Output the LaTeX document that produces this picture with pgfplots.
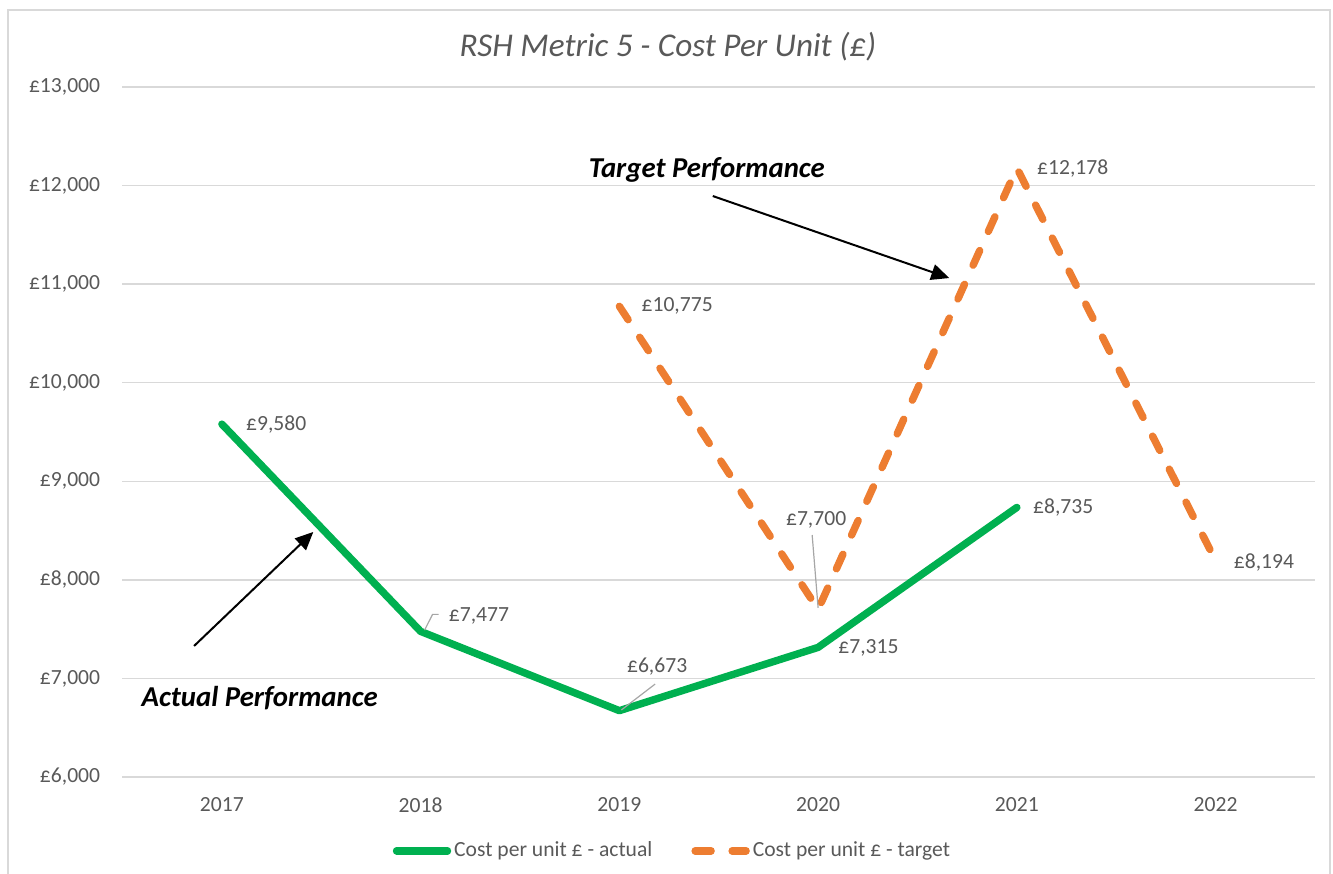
\documentclass[border=0pt]{standalone}
\usepackage{fontspec}
\setmainfont{Carlito}
\usepackage{pgfplots}
\pgfplotsset{compat=1.18}
\usetikzlibrary{arrows.meta}
\definecolor{cgreen}{HTML}{00B050}
\definecolor{corange}{HTML}{ED7D31}
\definecolor{ctext}{HTML}{595959}
\definecolor{cgrid}{HTML}{D9D9D9}
\definecolor{clead}{HTML}{A6A6A6}
\begin{document}
\begin{tikzpicture}
\path[use as bounding box] (0,0) rectangle (666.5pt,436.5pt);
\draw[cgrid, line width=0.75pt] (4pt,-1pt) -- (4pt,431.5pt) -- (665pt,431.5pt) -- (665pt,-1pt);
\node[ctext, font=\fontsize{16.6}{19}\selectfont\itshape] at (334pt,413pt) {RSH Metric 5 - Cost Per Unit (£)};
\begin{axis}[
 at={(61.25pt,48pt)}, anchor=south west, scale only axis,
 width=596.25pt, height=345pt,
 xmin=2016.5, xmax=2022.5, ymin=6000, ymax=13000,
 xtick={2017,2018,2019,2020,2021,2022},
 xticklabels={2017,2018,2019,2020,2021,2022},
 ytick={6000,7000,8000,9000,10000,11000,12000,13000},
 yticklabels={{£6,000},{£7,000},{£8,000},{£9,000},{£10,000},{£11,000},{£12,000},{£13,000}},
 scaled y ticks=false, scaled x ticks=false,
 ymajorgrids, grid style={cgrid, line width=0.75pt},
 axis line style={draw=none}, major tick length=0pt,
 tick label style={font=\fontsize{10.8}{12}\selectfont, text=ctext, inner sep=0pt},
 yticklabel style={anchor=east, xshift=-11pt},
 xticklabel style={anchor=north, yshift=-10pt},
 clip=false,
 legend style={at={(0.4616,-0.107)}, anchor=center, draw=none, fill=none,
   legend columns=2, font=\fontsize{10.8}{12}\selectfont, text=ctext,
   /tikz/every even column/.append style={column sep=18pt},
   nodes={inner sep=1.5pt}},
 legend cell align=left,
 legend image code/.code={\draw[#1] (0pt,0pt) -- (25.5pt,0pt);},
]
\addplot[cgreen, line width=3.7pt, line join=round, line cap=round] coordinates {(2017,9580)(2018,7477)(2019,6673)(2020,7315)(2021,8735)};
\addlegendentry{Cost per unit £ - actual}
\addplot[corange, line width=3.7pt, line cap=round, line join=round, dash pattern=on 8pt off 10.5pt] coordinates {(2019,10775)(2020,7700)(2021,12178)(2022,8194)};
\addlegendentry{Cost per unit £ - target}

% leader lines
\draw[clead, line width=0.6pt] (axis cs:2018.02,7490) -- (axis cs:2018.06,7650) -- (axis cs:2018.09,7650);
\draw[clead, line width=0.6pt] (axis cs:2019.01,6680) -- (axis cs:2019.18,6943);
\draw[clead, line width=0.6pt] (axis cs:2019.97,8455) -- (axis cs:2020.0,7715);

% data labels
\begin{scope}[every node/.style={font=\fontsize{10.8}{12}\selectfont, text=ctext, inner sep=0pt}]
\node[anchor=west] at (axis cs:2017.12,9580) {£9,580};
\node[anchor=west] at (axis cs:2018.14,7633) {£7,477};
\node at (axis cs:2019.19,7116) {£6,673};
\node[anchor=west] at (axis cs:2020.10,7315) {£7,315};
\node[anchor=west] at (axis cs:2021.08,8735) {£8,735};
\node[anchor=west] at (axis cs:2019.11,10775) {£10,775};
\node[anchor=west] at (axis cs:2021.10,12178) {£12,178};
\node[anchor=west] at (axis cs:2022.09,8181) {£8,194};
\node at (axis cs:2019.99,8607) {£7,700};
\end{scope}

% annotations
\node[font=\fontsize{14.4}{17}\selectfont\bfseries\itshape, text=black] at (axis cs:2019.44,12158) {Target Performance};
\draw[black, line width=1pt, -{Triangle[length=9pt,width=8pt]}] (axis cs:2019.47,11894) -- (axis cs:2020.66,11062);
\node[font=\fontsize{14.4}{17}\selectfont\bfseries\itshape, text=black] at (axis cs:2017.19,6801) {Actual Performance};
\draw[black, line width=1pt, -{Triangle[length=9pt,width=8pt]}] (axis cs:2016.86,7329) -- (axis cs:2017.46,8486);
\end{axis}
\end{tikzpicture}
\end{document}
